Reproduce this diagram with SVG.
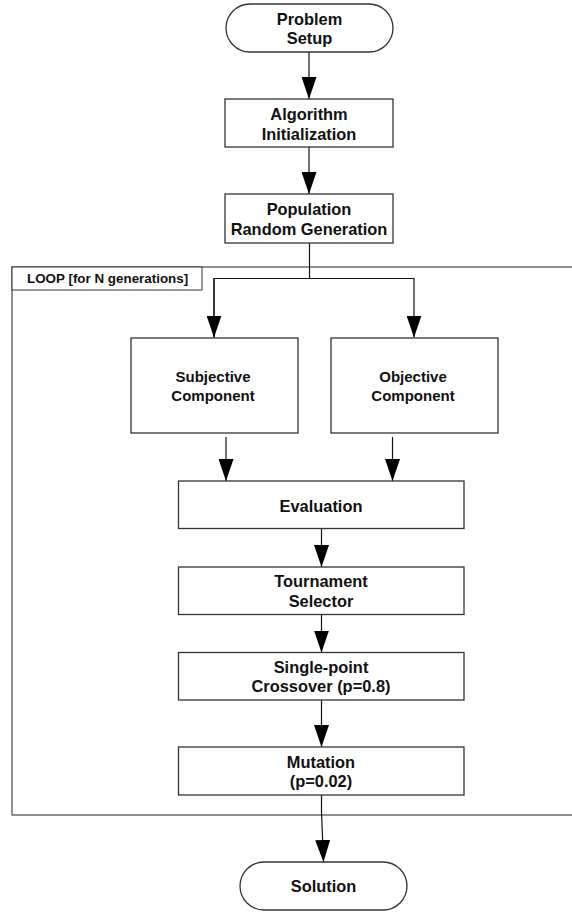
<svg xmlns="http://www.w3.org/2000/svg" width="572" height="912" viewBox="0 0 572 912">
<style>
.bg{fill:#fff}
.box{fill:#fff;stroke:#333;stroke-width:1.3}
.frame{fill:none;stroke:#555;stroke-width:1.3}
.lbl{fill:#fff;stroke:#333;stroke-width:1}
.t{font-family:"Liberation Sans",Arial,sans-serif;font-weight:bold;font-size:16.4px;fill:#111;text-anchor:middle}
.ts{font-size:15px}
.tl{font-family:"Liberation Sans",Arial,sans-serif;font-weight:bold;font-size:13.4px;fill:#111}
.c{fill:none;stroke:#111;stroke-width:1.2}
</style>
<defs>
<marker id="ah" markerUnits="userSpaceOnUse" markerWidth="22" markerHeight="15" refX="22" refY="7.5" orient="auto">
<path d="M0,0 L22,7.5 L0,15 Z" fill="#000"/>
</marker>
</defs>
<rect class="bg" x="0" y="0" width="572" height="912"/>
<g id="loop">
<rect class="frame" x="12" y="267" width="565" height="548"/>
<rect class="lbl" x="12" y="267" width="190" height="23"/>
<text class="tl" x="27" y="283">LOOP [for N generations]</text>
</g>
<g id="connectors">
<path class="c" d="M309,52 V99" marker-end="url(#ah)"/>
<path class="c" d="M309,147 V194" marker-end="url(#ah)"/>
<path class="c" d="M309.5,243 V278.5"/>
<path class="c" d="M214,337.5 V278.5 H414 V337.5" marker-end="url(#ah)"/>
<path class="c" d="M214,278.5 V337.5" marker-end="url(#ah)"/>
<path class="c" d="M226,437 V481" marker-end="url(#ah)"/>
<path class="c" d="M392.5,437 V481" marker-end="url(#ah)"/>
<path class="c" d="M321.5,528.5 V567" marker-end="url(#ah)"/>
<path class="c" d="M321.5,614.5 V652.5" marker-end="url(#ah)"/>
<path class="c" d="M321.5,700 V747" marker-end="url(#ah)"/>
<path class="c" d="M321.5,795 V812 Q322,822 323.5,862" marker-end="url(#ah)"/>
</g>
<g id="problem-setup">
<rect class="box" x="226" y="4" width="167" height="48" rx="24" ry="24"/>
<text class="t" x="309.5" y="25">Problem</text>
<text class="t" x="309.5" y="44">Setup</text>
</g>
<g id="algorithm-init">
<rect class="box" x="225" y="99" width="168" height="48"/>
<text class="t" x="309" y="120">Algorithm</text>
<text class="t" x="309" y="139.5">Initialization</text>
</g>
<g id="population">
<rect class="box" x="225" y="194" width="168" height="49"/>
<text class="t" x="309" y="215">Population</text>
<text class="t" x="309" y="235">Random Generation</text>
</g>
<g id="subjective">
<rect class="box" x="131" y="338" width="167" height="95"/>
<text class="t ts" x="213" y="381.5">Subjective</text>
<text class="t ts" x="213" y="400.5">Component</text>
</g>
<g id="objective">
<rect class="box" x="331" y="338" width="167" height="95"/>
<text class="t ts" x="413" y="381.5">Objective</text>
<text class="t ts" x="413" y="400.5">Component</text>
</g>
<g id="evaluation">
<rect class="box" x="178.5" y="481" width="285.5" height="47.5"/>
<text class="t" x="321" y="511.5">Evaluation</text>
</g>
<g id="tournament">
<rect class="box" x="178.5" y="567" width="285.5" height="47.5"/>
<text class="t" x="321" y="586.5">Tournament</text>
<text class="t" x="321" y="606.5">Selector</text>
</g>
<g id="crossover">
<rect class="box" x="178.5" y="652.5" width="285.5" height="47.5"/>
<text class="t" x="321" y="672.5">Single-point</text>
<text class="t" x="321" y="691.5">Crossover (p=0.8)</text>
</g>
<g id="mutation">
<rect class="box" x="178.5" y="747" width="285.5" height="48"/>
<text class="t" x="321" y="767.5">Mutation</text>
<text class="t" x="321" y="786.5">(p=0.02)</text>
</g>
<g id="solution">
<rect class="box" x="240" y="862" width="167" height="48" rx="24" ry="24"/>
<text class="t" x="323.5" y="891.5">Solution</text>
</g>
</svg>
